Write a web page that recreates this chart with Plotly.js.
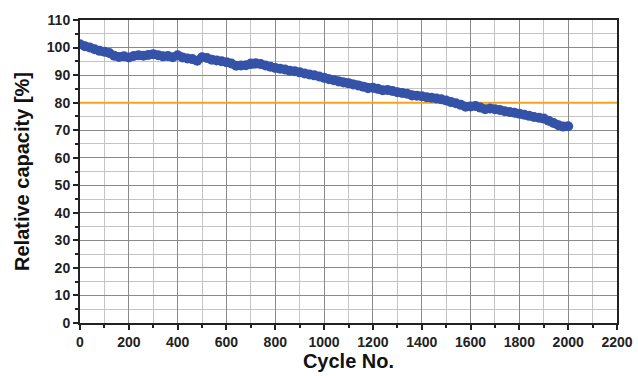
<!DOCTYPE html>
<html>
<head>
<meta charset="utf-8">
<script src="https://cdn.plot.ly/plotly-3.0.1.min.js"></script>
<style>html,body{margin:0;padding:0;background:#fff;}#chart{width:638px;height:376px;}</style>
</head>
<body>
<div id="chart"></div>
<script>
const cycles = [0,20,40,60,80,100,120,140,160,180,200,220,240,260,280,300,320,340,360,380,400,420,440,460,480,500,520,540,560,580,600,620,640,660,680,700,720,740,760,780,800,820,840,860,880,900,920,940,960,980,1000,1020,1040,1060,1080,1100,1120,1140,1160,1180,1200,1220,1240,1260,1280,1300,1320,1340,1360,1380,1400,1420,1440,1460,1480,1500,1520,1540,1560,1580,1600,1620,1640,1660,1680,1700,1720,1740,1760,1780,1800,1820,1840,1860,1880,1900,1920,1940,1960,1980,2000];
const capacity = [101.2,100.5,100.0,99.4,98.8,98.5,98.0,97.0,96.6,96.8,96.4,96.9,97.2,97.0,97.3,97.6,97.2,96.8,96.9,96.5,97.2,96.4,96.0,95.8,95.2,96.5,96.2,95.6,95.3,95.0,94.7,94.2,93.4,93.5,93.6,94.2,94.3,94.0,93.5,93.0,92.6,92.3,92.0,91.6,91.4,91.0,90.6,90.2,89.9,89.5,89.0,88.5,88.1,87.7,87.3,87.0,86.6,86.2,85.8,85.2,85.4,85.0,84.5,84.6,84.2,83.8,83.5,83.2,82.6,82.5,82.3,82.0,81.8,81.5,81.2,80.8,80.2,79.8,79.2,78.5,78.6,78.8,78.2,77.6,77.9,77.6,77.3,76.9,76.6,76.3,76.0,75.6,75.2,74.8,74.5,74.2,73.4,72.6,71.8,71.3,71.4];
const threshold = 80;
const xRange = [0, 2200];
const xTickVals = [0,200,400,600,800,1000,1200,1400,1600,1800,2000,2200];
const yTickVals = [0,10,20,30,40,50,60,70,80,90,100,110];

const tickFont = {family: 'Liberation Sans, Arial, sans-serif', size: 14, color: '#222', weight: 'bold'};
const titleFont = {family: 'Liberation Sans, Arial, sans-serif', size: 20, color: '#111', weight: 'bold'};

const thresholdTrace = {
  x: xRange, y: [threshold, threshold], type: 'scatter', mode: 'lines',
  line: {color: '#f7a21b', width: 2}, hoverinfo: 'none', showlegend: false, cliponaxis: false
};

const trace = {
  x: cycles, y: capacity, type: 'scatter', mode: 'lines+markers',
  line: {color: '#3453a8', width: 8},
  marker: {color: '#3453a8', size: 10},
  hoverinfo: 'none', showlegend: false
};

const layout = {
  width: 638, height: 376,
  margin: {l: 80, r: 21, t: 20, b: 53},
  paper_bgcolor: '#fff', plot_bgcolor: '#fff',
  xaxis: {
    range: xRange, tickvals: xTickVals, ticktext: xTickVals.map(String),
    showgrid: true, gridcolor: '#8a8a8a', gridwidth: 1,
    ticks: 'outside', ticklen: 5, tickwidth: 2, tickcolor: '#222',
    showline: true, linecolor: '#222', linewidth: 2, mirror: true,
    zeroline: false, tickfont: tickFont,
    minor: {dtick: 100, showgrid: true, gridcolor: '#c4c4c4', gridwidth: 1, ticks: 'outside', ticklen: 3, tickcolor: '#222', tickwidth: 2},
    title: {text: 'Cycle No.', font: titleFont, standoff: 2}
  },
  yaxis: {
    range: [0, 110], tickvals: yTickVals, ticktext: yTickVals.map(String),
    showgrid: true, gridcolor: '#8a8a8a', gridwidth: 1,
    ticks: 'outside', ticklen: 5, tickwidth: 2, tickcolor: '#222',
    showline: true, linecolor: '#222', linewidth: 2, mirror: true,
    zeroline: false, tickfont: tickFont,
    minor: {dtick: 5, showgrid: true, gridcolor: '#c4c4c4', gridwidth: 1, ticks: 'outside', ticklen: 3, tickcolor: '#222', tickwidth: 2},
    title: {text: 'Relative capacity [%]', font: titleFont, standoff: 12}
  }
};

Plotly.newPlot('chart', [thresholdTrace, trace], layout, {displayModeBar: false, staticPlot: true});
</script>
</body>
</html>
